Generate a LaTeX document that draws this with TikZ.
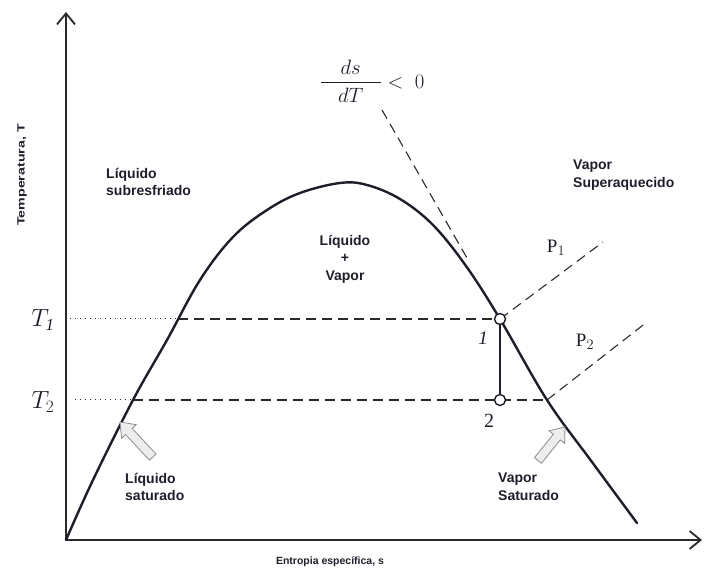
\documentclass[tikz,border=0pt]{standalone}
\usepackage{amsmath}
\usepackage{fontspec}
\setmainfont{Liberation Serif}
\newfontfamily\labelfont{Liberation Sans}
\usetikzlibrary{arrows.meta,calc,positioning}
\definecolor{Ink}{HTML}{1E1E2A}
\definecolor{LineGray}{HTML}{2A2A2A}
\definecolor{ArrowFill}{HTML}{EDEDED}
\definecolor{ArrowEdge}{HTML}{8C8C8C}
\tikzset{
  axis/.style={line width=2pt, draw=LineGray, -{Straight Barb[length=11pt,width=18pt,line width=1.8pt]}},
  dome/.style={line width=2.4pt, draw=Ink, line cap=round},
  isoline/.style={line width=1.1pt, draw=LineGray, dash pattern=on 10pt off 6pt},
  guide/.style={line width=1pt, draw=LineGray, dash pattern=on 1pt off 4pt},
  state/.style={circle, draw=Ink, line width=1.4pt, fill=white, minimum size=11pt, inner sep=0pt},
  region/.style={font=\labelfont\bfseries\fontsize{14}{17.5}\selectfont, text=Ink, align=left, inner sep=0pt},
  axislabel/.style={font=\labelfont\bfseries\fontsize{10.5}{13}\selectfont, text=Ink, inner sep=0pt},
  mathlabel/.style={font=\fontsize{24}{28}\selectfont, text=Ink, inner sep=0pt},
  hollow/.style={draw=ArrowEdge, fill=ArrowFill, line width=0.8pt, line join=miter}
}
\begin{document}
\begin{tikzpicture}[x=1pt,y=1pt]
  \useasboundingbox (0,0) rectangle (707,570);
  % ejes
  \coordinate (O) at (66,30);
  \coordinate (Tmax) at (66,558);
  \coordinate (Smax) at (702,30);
  \draw[axis] (O) -- (Tmax);
  \draw[axis] (O) -- (Smax);
  \node[axislabel, rotate=90, xscale=1.35] (ylab) at (22,395) {Temperatura, T};
  \node[axislabel] (xlab) at (330,8) {Entropia específica, s};

  % isotermas T1 y T2
  \coordinate (t1) at (70,251);
  \coordinate (a1) at (178,251);
  \coordinate (t2) at (75,170);
  \coordinate (a2) at (133,170);
  \coordinate (b2) at (547,170);
  \draw[guide] (t1) -- (a1);
  \draw[guide] (t2) -- (a2);
  \draw[isoline] (a1) -- (500,251);
  \draw[isoline] (a2) -- (b2);

  % isobaras
  \coordinate (p1) at (603,328);
  \coordinate (p2) at (647,248);
  \draw[isoline] (500,251) -- (p1);
  \draw[isoline] (b2) -- (p2);

  % tangente
  \coordinate (tg0) at (382,460);
  \coordinate (tg1) at (467,312);
  \draw[isoline] (tg0) -- (tg1);

  % domo
  \draw[dome] plot[smooth, tension=0.6] coordinates {
    (66,30) (93,90) (133,170) (167,230) (200,290) (233,333) (267,360) (300,377)
    (340,387) (367,385) (400,371) (433,345) (466,304) (500,251) (547,170) (592,108) (637,47)};

  % estados
  \node[state] (s1) at (500,251) {};
  \node[state] (s2) at (500,170) {};
  \draw[line width=1.4pt, draw=Ink] (s1) -- (s2);
  \node[mathlabel, font=\fontsize{19}{22}\selectfont] (n1) at (483,232) {\textit{1}};
  \node[mathlabel, font=\fontsize{20}{22}\selectfont] (n2) at (489,149) {2};

  % textos
  \node[mathlabel] (T1) at (43,250) {$T_{\mathit{1}}$};
  \node[mathlabel] (T2) at (43,168) {$T_{2}$};
  \node[mathlabel, font=\fontsize{19}{22}\selectfont] (P1) at (556,322) {$\mathrm{P}_{1}$};
  \node[mathlabel, font=\fontsize{19}{22}\selectfont] (P2) at (585,228) {$\mathrm{P}_{2}$};
  \node[mathlabel, font=\fontsize{20}{24}\selectfont] (slope) at (372,489)
    {$\dfrac{\makebox[60pt]{$ds$}}{dT} <\; 0$};

  \node[region, anchor=west] (sub) at (106,388) {Líquido\\subresfriado};
  \node[region, align=center] (mix) at (345,311) {Líquido\\+\\Vapor};
  \node[region, anchor=west] (sup) at (573,395) {Vapor\\Superaquecido};
  \node[region, anchor=west] (lsat) at (125,83) {Líquido\\saturado};
  \node[region, anchor=west] (vsat) at (498,83) {Vapor\\Saturado};

  % flechas huecas
  \begin{scope}[shift={(120,148)}, rotate=133]
    \draw[hollow] (0,0) -- (-13,10) -- (-13,4.5) -- (-48,4.5) -- (-48,-4.5) -- (-13,-4.5) -- (-13,-10) -- cycle;
  \end{scope}
  \begin{scope}[shift={(565,143)}, rotate=51]
    \draw[hollow] (0,0) -- (-13,10) -- (-13,4.5) -- (-43,4.5) -- (-43,-4.5) -- (-13,-4.5) -- (-13,-10) -- cycle;
  \end{scope}
\end{tikzpicture}
\end{document}
